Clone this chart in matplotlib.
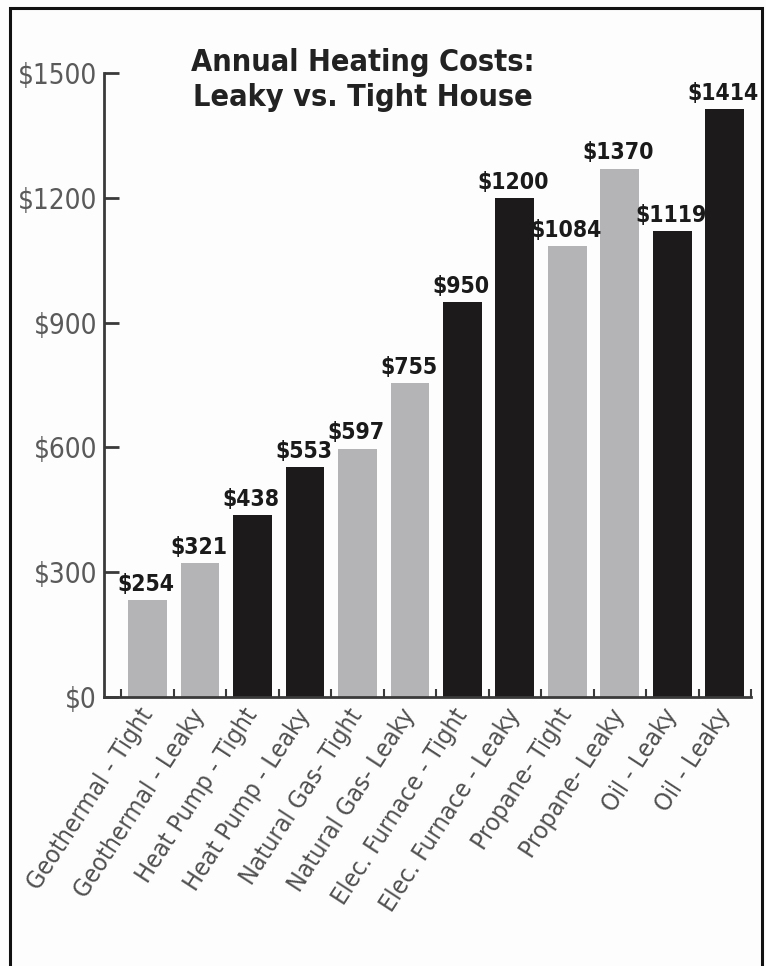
import matplotlib
matplotlib.use("Agg")
import matplotlib.pyplot as plt
from matplotlib.patches import Rectangle

categories = ["Geothermal - Tight", "Geothermal - Leaky", "Heat Pump - Tight",
              "Heat Pump - Leaky", "Natural Gas- Tight", "Natural Gas- Leaky",
              "Elec. Furnace - Tight", "Elec. Furnace - Leaky", "Propane- Tight",
              "Propane- Leaky", "Oil - Leaky", "Oil - Leaky"]
# bar heights as drawn in the picture
bar_heights = [233, 321, 438, 553, 597, 755, 950, 1200, 1084, 1270, 1119, 1414]
# value labels as printed above the bars
value_labels = ["$254", "$321", "$438", "$553", "$597", "$755", "$950",
                "$1200", "$1084", "$1370", "$1119", "$1414"]
bar_colors = ["#b4b4b6", "#b4b4b6", "#1c1a1b", "#1c1a1b", "#b4b4b6", "#b4b4b6",
              "#1c1a1b", "#1c1a1b", "#b4b4b6", "#b4b4b6", "#1c1a1b", "#1c1a1b"]
y_ticks = [0, 300, 600, 900, 1200, 1500]
y_tick_labels = ["$0", "$300", "$600", "$900", "$1200", "$1500"]
title = "Annual Heating Costs:\nLeaky vs. Tight House"

plt.rcParams['font.family'] = ['DejaVu Sans']
plt.rcParams['font.stretch'] = 'condensed'

fig = plt.figure(figsize=(7.66, 9.66), dpi=100)
fig.patch.set_facecolor("#fdfdfd")
ax = fig.add_axes([0.1358, 0.2785, 0.8446, 0.646])
ax.set_facecolor("#fdfdfd")

x = list(range(len(categories)))
ax.bar(x, bar_heights, width=0.74, color=bar_colors, zorder=2)

for xi, h, lab in zip(x, bar_heights, value_labels):
    ax.annotate(lab, (xi, h), xytext=(-1, 3), textcoords="offset points",
                ha="center", va="bottom", fontsize=16.5, fontweight="bold",
                fontstretch="condensed", color="#1a1a1a")

ax.set_xlim(-0.83, 11.5)
ax.set_ylim(0, 1500)

for s in ["top", "right"]:
    ax.spines[s].set_visible(False)
for s in ["left", "bottom"]:
    ax.spines[s].set_color("#3a3a3a")
    ax.spines[s].set_linewidth(2)

ax.set_yticks(y_ticks)
ax.set_yticklabels(y_tick_labels, fontsize=20, color="#5a5a5a", fontstretch="condensed")
ax.tick_params(axis="y", direction="in", length=11, width=2, color="#3a3a3a", pad=5)

# major ticks at bar centres carry the labels; minor ticks at category boundaries
ax.set_xticks(x)
ax.set_xticklabels(categories, rotation=57, ha="right", va="center",
                   rotation_mode="anchor", fontsize=18, color="#505050",
                   fontstretch="condensed")
ax.tick_params(axis="x", which="major", length=0, pad=10)
ax.set_xticks([i - 0.5 for i in range(len(categories) + 1)], minor=True)
ax.tick_params(axis="x", which="minor", direction="in", length=5.5, width=1.5, color="#3a3a3a")

fig.text(0.474, 0.917, title, ha="center", va="center", fontsize=22,
         fontweight="bold", fontstretch="condensed", color="#222222", linespacing=1.25)

fig.patches.append(Rectangle((0.013, -0.02), 0.9818, 1.0117, transform=fig.transFigure,
                             fill=False, edgecolor="#111111", linewidth=2.2))

fig.savefig("out.png", dpi=100, facecolor=fig.get_facecolor())
